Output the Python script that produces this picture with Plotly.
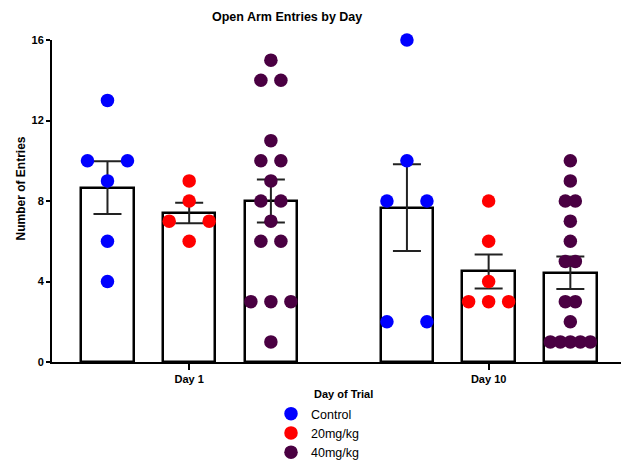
import numpy as np
import plotly.graph_objects as go

# Open arm entries per animal, by day and treatment
days = ["Day 1", "Day 10"]
treatments = ["Control", "20mg/kg", "40mg/kg"]
colors = ["#0000FF", "#FF0000", "#4A0042"]

day1_control = [13, 10, 10, 9, 6, 4]
day1_20mg = [9, 8, 7, 7, 6]
day1_40mg = [15, 14, 14, 11, 10, 10, 9, 8, 8, 7, 6, 6, 3, 3, 3, 1]
day10_control = [16, 10, 8, 8, 2, 2]
day10_20mg = [8, 6, 4, 3, 3, 3]
day10_40mg = [10, 9, 8, 8, 7, 6, 5, 5, 3, 3, 2, 1, 1, 1, 1, 1]

y_ticks = [0, 4, 8, 12, 16]

groups = [
    [day1_control, day1_20mg, day1_40mg],
    [day10_control, day10_20mg, day10_40mg],
]

# Layout geometry (figure pixels)
W, H = 621, 463
M_L, M_R, M_T, M_B = 52, 0, 40, 101
GAP = 0.665          # extra space between day clusters, in bar slots
BAR_W = 0.643
X_RANGE = [-0.679, 6.285]
PX_PER_UNIT = (W - M_L - M_R) / (X_RANGE[1] - X_RANGE[0])
SPREAD_PX = 40       # horizontal extent of the point cloud in a column


def slot(d, t):
    return d * (3 + GAP) + t


def spread(values, center):
    """Column scatter: ties spread side by side around the column centre."""
    vals = np.asarray(values, dtype=float)
    uniq, counts = np.unique(vals, return_counts=True)
    max_n = counts.max()
    step = SPREAD_PX / (max_n - 1) if max_n > 1 else 0
    xs, ys = [], []
    for v, n in zip(uniq, counts):
        for i in range(n):
            off_px = (i - (n - 1) / 2) * step
            xs.append(center + off_px / PX_PER_UNIT)
            ys.append(v)
    return xs, ys


def px_x(px):
    return (px - M_L) / (W - M_L - M_R)


def px_y(py):
    return (H - M_B - py) / (H - M_T - M_B)


fig = go.Figure()

# Bars: group mean with SEM error bars
bar_x, bar_y, bar_err = [], [], []
for d in range(len(days)):
    for t in range(len(treatments)):
        vals = np.asarray(groups[d][t], dtype=float)
        bar_x.append(slot(d, t))
        bar_y.append(vals.mean())
        bar_err.append(vals.std(ddof=1) / np.sqrt(len(vals)))

fig.add_trace(go.Bar(
    x=bar_x, y=bar_y, width=BAR_W,
    marker=dict(color="white", line=dict(color="black", width=2.5)),
    error_y=dict(type="data", array=bar_err, visible=True,
                 color="#222222", thickness=2, width=14),
    showlegend=False, hoverinfo="skip",
))

# Individual animals
for t, name in enumerate(treatments):
    xs, ys = [], []
    for d in range(len(days)):
        gx, gy = spread(groups[d][t], slot(d, t))
        xs += gx
        ys += gy
    fig.add_trace(go.Scatter(
        x=xs, y=ys, mode="markers", name=name,
        marker=dict(color=colors[t], size=13.5, line=dict(width=0)),
        cliponaxis=False,
    ))

fig.update_layout(
    width=W, height=H,
    margin=dict(l=M_L, r=M_R, t=M_T, b=M_B, autoexpand=False),
    plot_bgcolor="white", paper_bgcolor="white",
    font=dict(family="Liberation Sans, Arial, sans-serif", color="black"),
    bargap=0,
    showlegend=True,
    legend=dict(
        x=px_x(271), xanchor="left",
        y=px_y(399), yanchor="top",
        font=dict(size=12.5), bgcolor="rgba(0,0,0,0)",
        tracegroupgap=0,
    ),
    annotations=[
        dict(text="<b>Open Arm Entries by Day</b>", xref="paper", yref="paper",
             x=px_x(286.5), y=px_y(17),
             xanchor="center", yanchor="middle", showarrow=False,
             font=dict(size=12.5)),
        dict(text="<b>Day of Trial</b>", xref="paper", yref="paper",
             x=px_x(343), y=px_y(393.5),
             xanchor="center", yanchor="middle", showarrow=False,
             font=dict(size=11)),
        dict(text="<b>Number of Entries</b>", xref="paper", yref="paper",
             x=px_x(20.5), y=px_y(189),
             xanchor="center", yanchor="middle", showarrow=False, textangle=-90,
             font=dict(size=12)),
    ],
)

fig.update_xaxes(
    range=X_RANGE, showgrid=False, zeroline=False,
    showline=True, linecolor="black", linewidth=2,
    tickmode="array",
    tickvals=[(slot(d, 0) + slot(d, 2)) / 2 for d in range(len(days))],
    ticktext=[f"<b>{d}</b>" for d in days],
    ticks="outside", ticklen=6, tickwidth=2, tickcolor="black",
    tickfont=dict(size=11),
)
fig.update_yaxes(
    range=[0, 16], showgrid=False, zeroline=False,
    showline=True, linecolor="black", linewidth=2,
    tickmode="array", tickvals=y_ticks,
    ticktext=[f"<b>{v}</b>" for v in y_ticks],
    ticks="outside", ticklen=4, tickwidth=2, tickcolor="black",
    tickfont=dict(size=11),
)

fig.write_html("out.html")
